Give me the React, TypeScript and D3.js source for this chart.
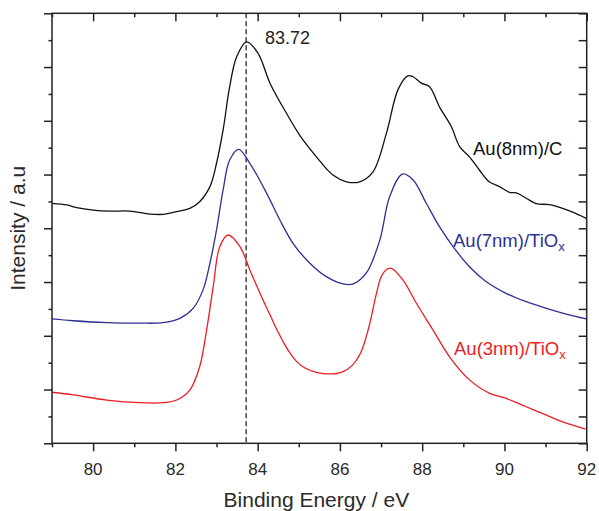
import React, { useEffect, useRef } from 'react';
import * as d3 from 'd3';

// Binding energy (eV) and intensity (a.u., one unit = one minor tick) per spectrum
const blackEnergy = [79.0, 79.36, 79.6, 80.0, 80.41, 80.89, 81.38, 81.7, 82.03, 82.35, 82.59, 82.84, 83.0, 83.16, 83.32, 83.49, 83.73, 84.01, 84.3, 84.7, 85.02, 85.43, 85.83, 86.16, 86.48, 86.8, 87.13, 87.41, 87.65, 87.78, 87.98, 88.18, 88.42, 88.71, 88.91, 89.15, 89.39, 89.63, 89.88, 90.12, 90.29, 90.53, 90.77, 91.1, 91.42, 91.66, 91.99];
const blackIntensity = [8.93, 8.87, 8.77, 8.68, 8.64, 8.64, 8.53, 8.52, 8.62, 8.74, 8.99, 9.55, 10.42, 11.66, 13.27, 14.38, 14.94, 14.51, 13.4, 12.28, 11.47, 10.66, 9.98, 9.73, 9.73, 10.09, 11.53, 13.15, 13.67, 13.64, 13.4, 13.27, 12.52, 11.78, 11.04, 10.66, 10.17, 9.73, 9.55, 9.34, 9.32, 9.12, 8.92, 8.88, 8.74, 8.6, 8.37];

const blueEnergy = [79.0, 79.52, 80.33, 81.14, 81.7, 82.11, 82.43, 82.67, 82.84, 83.0, 83.16, 83.32, 83.54, 83.81, 84.22, 84.54, 84.86, 85.27, 85.67, 86.08, 86.32, 86.64, 86.97, 87.21, 87.52, 87.78, 88.1, 88.42, 88.75, 89.15, 89.56, 90.04, 90.53, 91.02, 91.5, 91.99];
const blueIntensity = [4.63, 4.56, 4.49, 4.47, 4.49, 4.65, 5.02, 5.7, 6.7, 7.94, 9.43, 10.54, 10.94, 10.42, 9.3, 8.31, 7.44, 6.7, 6.2, 5.93, 5.93, 6.33, 7.56, 9.18, 10.02, 9.8, 8.93, 8.06, 7.32, 6.57, 6.01, 5.58, 5.27, 5.02, 4.81, 4.63];

const redEnergy = [79.0, 79.52, 80.33, 81.14, 81.7, 82.03, 82.35, 82.59, 82.76, 82.92, 83.08, 83.28, 83.57, 83.81, 84.13, 84.3, 84.46, 84.62, 84.78, 84.95, 85.15, 85.43, 85.75, 86.05, 86.3, 86.5, 86.7, 86.88, 87.0, 87.12, 87.25, 87.53, 87.86, 88.26, 88.67, 89.15, 89.64, 90.04, 90.53, 91.02, 91.42, 91.97];
const redIntensity = [1.9, 1.8, 1.61, 1.51, 1.51, 1.61, 1.98, 2.85, 4.22, 5.83, 7.32, 7.75, 7.32, 6.45, 5.33, 4.78, 4.25, 3.78, 3.37, 3.04, 2.8, 2.64, 2.58, 2.65, 2.9, 3.35, 4.3, 5.52, 6.19, 6.45, 6.51, 6.08, 5.21, 4.22, 3.21, 2.36, 1.86, 1.67, 1.36, 1.05, 0.8, 0.53];

const xTicks = [79, 80, 81, 82, 83, 84, 85, 86, 87, 88, 89, 90, 91, 92];
const xLabels = [80, 82, 84, 86, 88, 90, 92];
const yTicks = d3.range(0, 17);
const peakEnergy = 83.72;

const App = () => {
  const ref = useRef<SVGSVGElement | null>(null);

  useEffect(() => {
    const svg = d3.select(ref.current);
    svg.selectAll('*').remove();

    const margin = { top: 13.3, right: 12.3, bottom: 67.7, left: 52 };
    const width = 599, height = 511;
    const x = d3.scaleLinear().domain([79, 92]).range([margin.left, width - margin.right]);
    const y = d3.scaleLinear().domain([0, 16]).range([height - margin.bottom, margin.top]);
    const font = "'Liberation Sans', Arial, sans-serif";
    const axisColor = '#222';

    const line = d3.line<[number, number]>()
      .x(d => x(d[0]))
      .y(d => y(d[1]))
      .curve(d3.curveCatmullRom.alpha(0.5));

    const series = [
      { e: blackEnergy, v: blackIntensity, color: '#111111' },
      { e: blueEnergy, v: blueIntensity, color: '#2e3192' },
      { e: redEnergy, v: redIntensity, color: '#ed1c24' },
    ];

    // dashed marker at peak
    svg.append('line')
      .attr('x1', x(peakEnergy)).attr('x2', x(peakEnergy))
      .attr('y1', y(16)).attr('y2', y(0))
      .attr('stroke', '#111').attr('stroke-width', 1.2)
      .attr('stroke-dasharray', '5,3');

    series.forEach(s => {
      svg.append('path')
        .datum(s.e.map((e, i) => [e, s.v[i]] as [number, number]))
        .attr('d', line)
        .attr('fill', 'none')
        .attr('stroke', s.color)
        .attr('stroke-width', 1.3)
        .attr('stroke-linejoin', 'round');
    });

    const y0 = y(0), y1 = y(16), x0 = x(79), x1 = x(92);

    // bottom axis: ticks out
    svg.append('g')
      .attr('transform', `translate(0,${y0})`)
      .call(d3.axisBottom(x).tickValues(xTicks).tickSize(0).tickFormat(() => ''))
      .call(g => g.select('.domain').remove())
      .call(g => g.selectAll('.tick line')
        .attr('y2', (d: any) => (d % 2 === 0 ? 8 : 4))
        .attr('stroke', axisColor).attr('stroke-width', 1.5));

    svg.append('g')
      .selectAll('text')
      .data(xLabels)
      .join('text')
      .attr('x', d => x(d)).attr('y', 475)
      .attr('text-anchor', 'middle')
      .attr('font-family', font).attr('font-size', 17)
      .attr('fill', '#2a2a2a')
      .text(d => d);

    // top axis: ticks in
    svg.append('g')
      .attr('transform', `translate(0,${y1})`)
      .call(d3.axisBottom(x).tickValues(xTicks).tickSize(0).tickFormat(() => ''))
      .call(g => g.select('.domain').remove())
      .call(g => g.selectAll('.tick line')
        .attr('y2', (d: any) => (d % 2 === 0 ? 8 : 4))
        .attr('stroke', axisColor).attr('stroke-width', 1.5));

    // left axis: ticks out
    svg.append('g')
      .attr('transform', `translate(${x0},0)`)
      .call(d3.axisLeft(y).tickValues(yTicks).tickSize(0).tickFormat(() => ''))
      .call(g => g.select('.domain').remove())
      .call(g => g.selectAll('.tick line')
        .attr('x2', (d: any) => (d % 2 === 0 ? -8 : -3.5))
        .attr('stroke', axisColor).attr('stroke-width', 1.5));

    // right axis: ticks in
    svg.append('g')
      .attr('transform', `translate(${x1},0)`)
      .call(d3.axisRight(y).tickValues(yTicks).tickSize(0).tickFormat(() => ''))
      .call(g => g.select('.domain').remove())
      .call(g => g.selectAll('.tick line')
        .attr('x2', -8)
        .attr('stroke', axisColor).attr('stroke-width', 1.5));

    svg.append('rect')
      .attr('x', x0).attr('y', y1)
      .attr('width', x1 - x0).attr('height', y0 - y1)
      .attr('fill', 'none').attr('stroke', axisColor).attr('stroke-width', 1.5);

    // titles
    svg.append('text')
      .attr('x', (x0 + x1) / 2 - 3).attr('y', 507)
      .attr('text-anchor', 'middle')
      .attr('font-family', font).attr('font-size', 21)
      .attr('fill', '#2a2a2a')
      .text('Binding Energy / eV');

    svg.append('text')
      .attr('transform', `translate(25,${(y0 + y1) / 2}) rotate(-90)`)
      .attr('text-anchor', 'middle')
      .attr('font-family', font).attr('font-size', 21)
      .attr('fill', '#2a2a2a')
      .text('Intensity / a.u');

    svg.append('text')
      .attr('x', 265).attr('y', 44)
      .attr('font-family', font).attr('font-size', 18)
      .attr('fill', '#222')
      .text('83.72');

    const labels = [
      { text: 'Au(8nm)/C', sub: '', x: 473, y: 155, color: '#111111' },
      { text: 'Au(7nm)/TiO', sub: 'x', x: 453, y: 246.5, color: '#2e3192' },
      { text: 'Au(3nm)/TiO', sub: 'x', x: 454, y: 355, color: '#ed1c24' },
    ];
    labels.forEach(l => {
      const t = svg.append('text')
        .attr('x', l.x).attr('y', l.y)
        .attr('font-family', font).attr('font-size', 18.5)
        .attr('fill', l.color);
      t.append('tspan').text(l.text);
      if (l.sub) {
        t.append('tspan').attr('dy', 4).attr('font-size', 13).text(l.sub);
      }
    });
  }, []);

  return (
    <svg
      ref={ref}
      width={599}
      height={511}
      style={{ position: 'absolute', left: 0, top: 0, background: '#fff' }}
    />
  );
};

export default App;
